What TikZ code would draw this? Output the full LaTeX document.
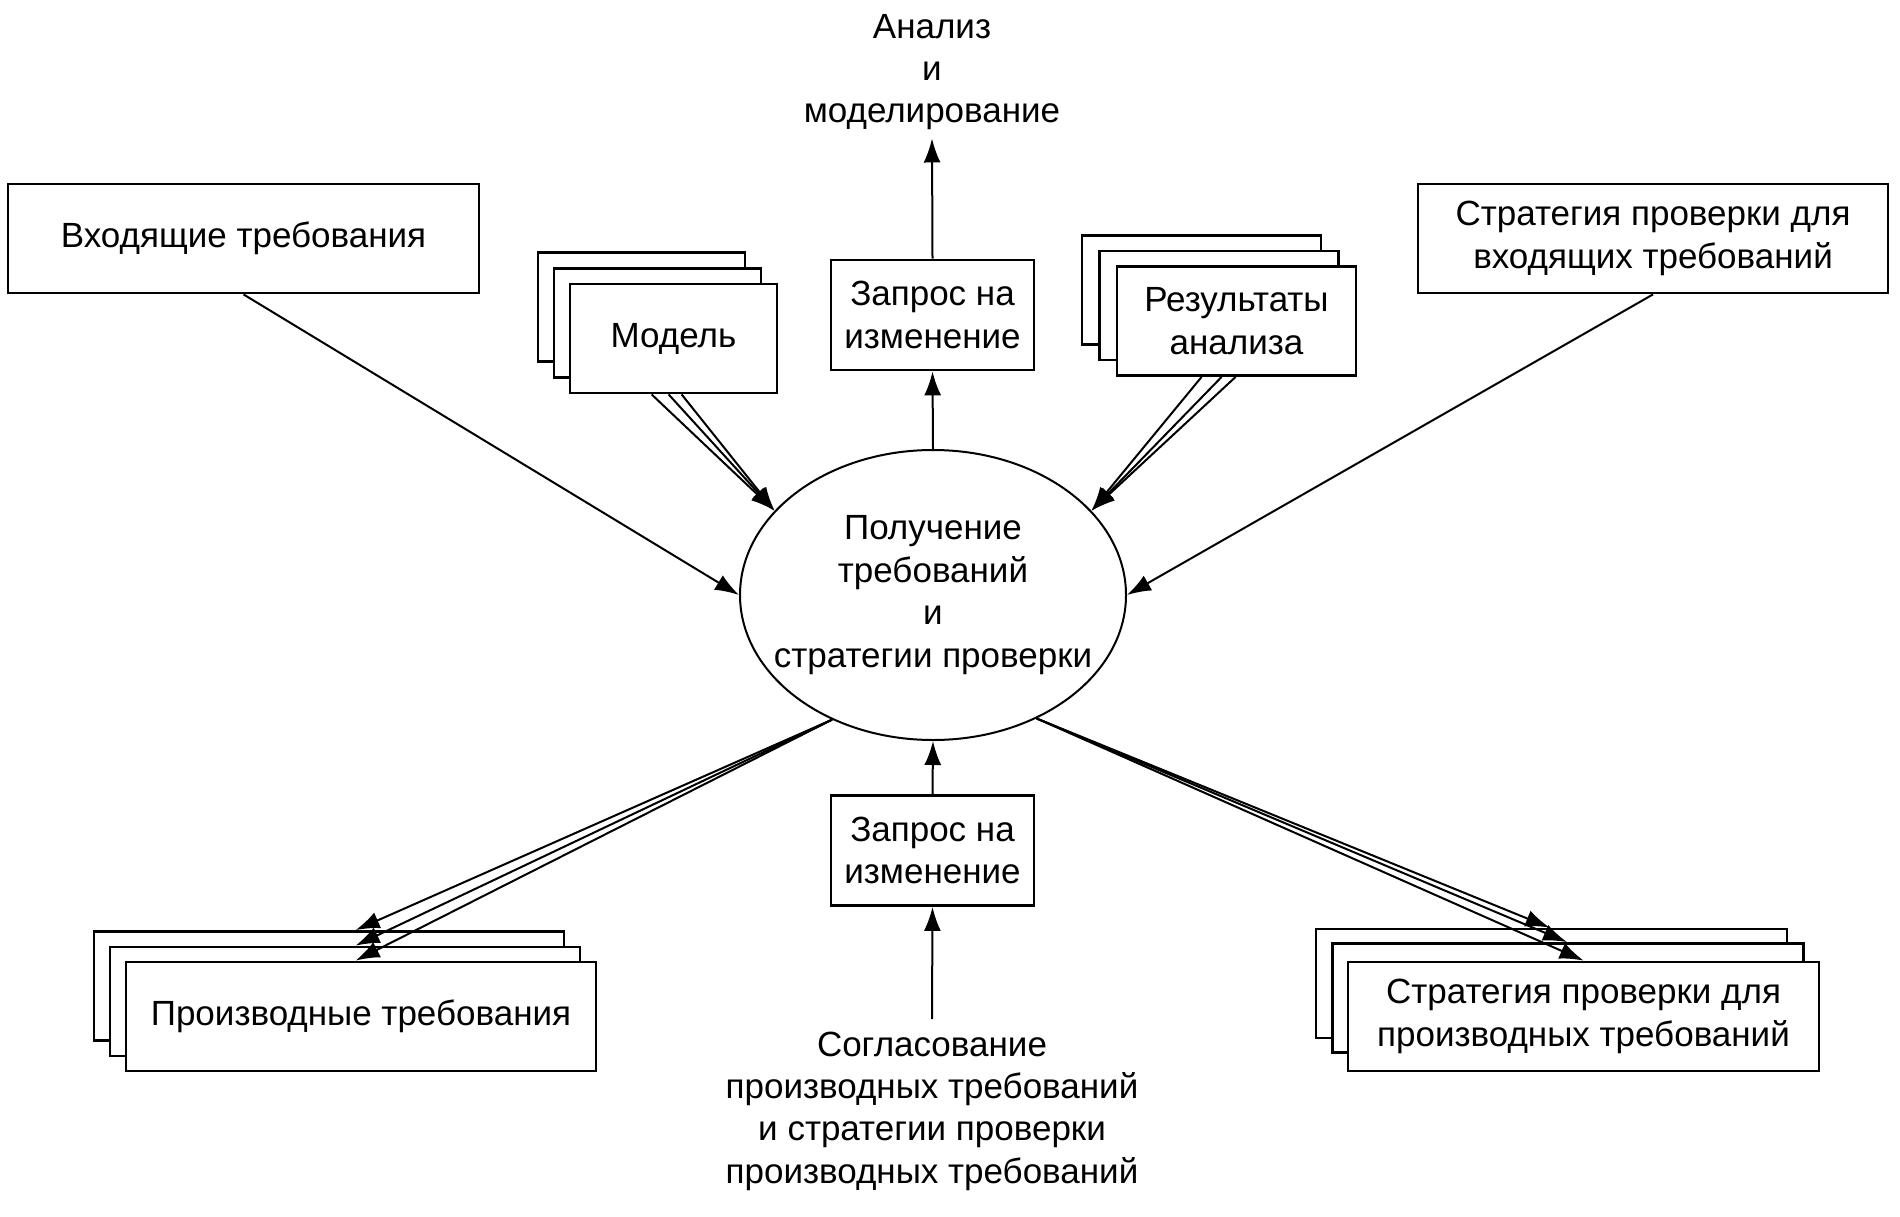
\documentclass[tikz,border=0pt]{standalone}
\usepackage{fontspec}
\setmainfont{Liberation Sans}
\usetikzlibrary{arrows.meta,calc,shapes.geometric}
\newcommand{\dgfont}{\fontsize{17.5}{21.2}\selectfont}
\begin{document}
\begin{tikzpicture}[x=0.5pt,y=-0.5pt,
  box/.style={draw=black,line width=1.4pt,fill=white,minimum width=#1,minimum height=54.5pt,inner sep=0pt,align=center,font=\dgfont},
  txt/.style={align=center,font=\dgfont,inner sep=4pt},
  arr/.style={line width=1pt,-{Latex[length=12pt,width=8.5pt]}}]
\fill[white] (0,0) rectangle (1900,1216);
\useasboundingbox (0,0) rectangle (1900,1216);

% top boxes
\node[box=235.5pt] (inc) at (243.5,238.5) {Входящие требования};
\node[box=235pt] (sin) at (1653,238.5) {Стратегия проверки для\\входящих требований};

% model stack
\node[box=103.5pt] (mod3) at (641.5,307) {};
\node[box=103.5pt] (mod2) at (657.5,323) {};
\node[box=103.5pt] (mod1) at (673.5,338.5) {Модель};

% results stack
\node[box=119.5pt] (res3) at (1201.5,290) {};
\node[box=119.5pt] (res2) at (1219,305.5) {};
\node[box=119.5pt] (res1) at (1236.5,321) {Результаты\\анализа};

% change requests
\node[box=101.5pt,minimum height=55pt] (zt) at (932.5,315) {Запрос на\\изменение};
\node[box=101.5pt,minimum height=55pt] (zb) at (932.5,850.5) {Запрос на\\изменение};

% derived requirements stack
\node[box=235pt] (der3) at (329,986) {};
\node[box=235pt] (der2) at (345,1001.5) {};
\node[box=235pt] (der1) at (361,1016.5) {Производные требования};

% derived strategy stack
\node[box=235.5pt] (sdr3) at (1551.5,983.5) {};
\node[box=235.5pt] (sdr2) at (1568,998) {};
\node[box=235.5pt] (sdr1) at (1583.5,1016.5) {Стратегия проверки для\\производных требований};

% central ellipse
\node[ellipse,draw=black,line width=1pt,minimum width=193pt,minimum height=145pt,inner sep=0pt] (ell) at (933,595) {};
\node[txt] (elltxt) at (ell.center) {Получение\\требований\\и\\стратегии проверки};

% free texts
\node[txt] (ana) at (932,72) {Анализ\\и\\моделирование};
\node[txt,inner sep=6pt] (agr) at (932,1111) {Согласование\\производных требований\\и стратегии проверки\\производных требований};

% vertical arrows
\draw[arr] (zt.north) -- (ana.south);
\draw[arr] (ell.north) -- (zt.south);
\draw[arr] (zb.north) -- (ell.south);
\draw[arr] (agr.north) -- (zb.south);

% single arrows
\draw[arr] (inc.south) -- (ell.west);
\draw[arr] (sin.south) -- (ell.east);

% triple arrows in
\draw[arr] ($(mod1.south west)+(83,0)$) -- (ell.152);
\draw[arr] ($(mod1.south west)+(100,0)$) -- (ell.152);
\draw[arr] ($(mod1.south west)+(113,0)$) -- (ell.152);
\draw[arr] ($(res1.south west)+(86,0)$) -- (ell.28);
\draw[arr] ($(res1.south west)+(106,0)$) -- (ell.28);
\draw[arr] ($(res1.south west)+(120,0)$) -- (ell.28);

% triple arrows out
\draw[arr] (ell.231) -- ($(der3.north west)+(263,0)$);
\draw[arr] (ell.231) -- ($(der2.north west)+(247,0)$);
\draw[arr] (ell.231) -- ($(der1.north west)+(231,0)$);
\draw[arr] (ell.310) -- ($(sdr3.north west)+(235,0)$);
\draw[arr] (ell.310) -- ($(sdr2.north west)+(236,0)$);
\draw[arr] (ell.310) -- ($(sdr1.north west)+(237,0)$);
\end{tikzpicture}
\end{document}
